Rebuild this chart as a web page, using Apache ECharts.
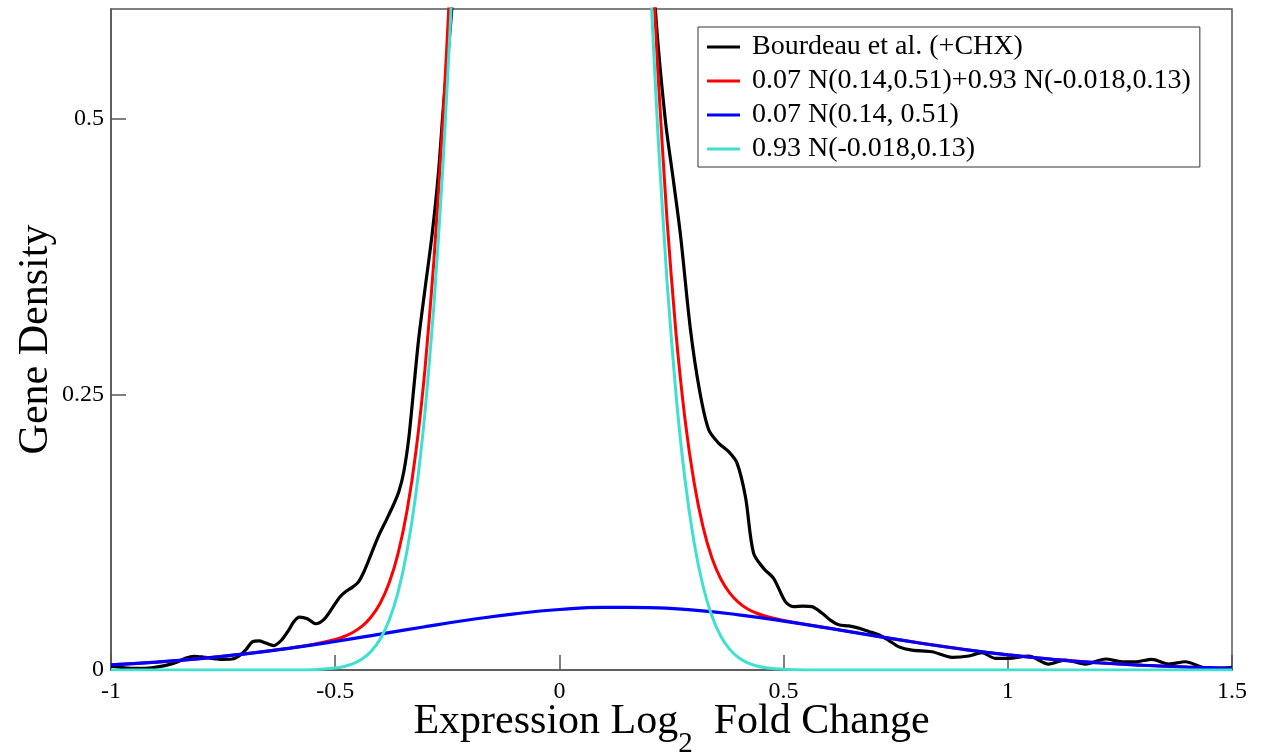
<!DOCTYPE html>
<html><head><meta charset="utf-8">
<script src="https://cdn.jsdelivr.net/npm/echarts@6/dist/echarts.min.js"></script>
<style>html,body{margin:0;padding:0;background:#fff}#c{width:1262px;height:753px}</style>
</head><body><div id="c"></div>
<script>
// ---- data ----
const seriesNames = [
  'Bourdeau et al. (+CHX)',
  '0.07 N(0.14,0.51)+0.93 N(-0.018,0.13)',
  '0.07 N(0.14, 0.51)',
  '0.93 N(-0.018,0.13)'
];
const xTicks = [-1, -0.5, 0, 0.5, 1, 1.5];
const yTicks = [0, 0.25, 0.5];

// empirical density (black); null = curve leaves the plot above the top
const blackX = [-1.00,-0.97,-0.94,-0.91,-0.88,-0.855,-0.835,-0.815,-0.795,-0.775,-0.752,-0.73,-0.715,-0.70,-0.685,-0.67,-0.655,-0.637,-0.62,-0.604,-0.592,-0.58,-0.562,-0.544,-0.525,-0.507,-0.49,-0.477,-0.462,-0.448,-0.435,-0.42,-0.403,-0.385,-0.37,-0.358,-0.347,-0.336,-0.325,-0.314,-0.30,-0.284,-0.27,-0.258,-0.24,-0.225,
  0.0,
  0.20,0.214,0.236,0.254,0.270,0.292,0.312,0.333,0.355,0.378,0.396,0.415,0.433,0.456,0.478,0.504,0.522,0.543,0.563,0.586,0.605,0.623,0.645,0.6675,0.69,0.712,0.734,0.757,0.786,0.831,0.876,0.913,0.9425,0.972,1.002,1.0466,1.091,1.128,1.173,1.218,1.255,1.285,1.3215,1.359,1.396,1.433,1.463,1.5];
const blackY = [0.0035,0.002,0.0015,0.002,0.004,0.0068,0.0105,0.0125,0.0118,0.0106,0.0097,0.0100,0.0125,0.018,0.0255,0.0265,0.0245,0.0222,0.027,0.036,0.044,0.048,0.0465,0.042,0.046,0.056,0.066,0.071,0.075,0.080,0.090,0.105,0.122,0.137,0.150,0.162,0.180,0.210,0.255,0.300,0.345,0.395,0.450,0.515,0.60,0.70,
  null,
  0.72,0.60,0.50,0.445,0.395,0.310,0.255,0.218,0.206,0.198,0.188,0.157,0.106,0.092,0.083,0.062,0.0575,0.058,0.0575,0.0515,0.045,0.041,0.040,0.038,0.035,0.032,0.027,0.021,0.018,0.0166,0.0115,0.0127,0.0157,0.0106,0.0106,0.0127,0.0054,0.009,0.0054,0.010,0.0075,0.0075,0.0097,0.0054,0.0075,0.0025,0.0012,0.0025];

// mixture (red) and narrow component (cyan), sampled where they are in view
const modelX = [-1.0,-0.9,-0.8,-0.7,-0.6,-0.55,-0.5,-0.48,-0.46,-0.44,-0.42,-0.40,-0.38,-0.36,-0.34,-0.32,-0.30,-0.28,-0.26,-0.24,-0.22,-0.20,
  0,
  0.16,0.18,0.20,0.22,0.24,0.26,0.28,0.30,0.32,0.34,0.36,0.38,0.40,0.42,0.44,0.46,0.48,0.50,0.55,0.6,0.7,0.8,0.9,1.0,1.1,1.2,1.3,1.4,1.5];
const redY = [0.0047,0.0071,0.0104,0.0147,0.0199,0.0232,0.0277,0.0304,0.0343,0.0398,0.0481,0.0604,0.0787,0.1055,0.1441,0.1982,0.2722,0.3707,0.4976,0.6564,0.8487,1.074,
  null,
  1.134,0.9034,0.7052,0.5407,0.4086,0.3057,0.2280,0.1710,0.1303,0.1019,0.0826,0.0698,0.0612,0.0554,0.0515,0.0488,0.0467,0.0450,0.0414,0.0380,0.0312,0.0247,0.0188,0.0138,0.0097,0.0066,0.0043,0.0027,0.0016];
const cyanY = [0,0,0,0,0.0001,0.0003,0.0018,0.0032,0.0057,0.0099,0.0169,0.0278,0.0448,0.0703,0.1075,0.1602,0.2329,0.3301,0.4557,0.6132,0.8043,1.028,
  null,
  1.077,0.8466,0.6486,0.4844,0.3527,0.2503,0.1731,0.1167,0.0767,0.0491,0.0307,0.0187,0.0111,0.0064,0.0036,0.0020,0.0011,0.0006,0.0001,0,0,0,0,0,0,0,0,0,0];

// broad component (blue)
const blueX = [-1.0,-0.9,-0.8,-0.7,-0.6,-0.5,-0.4,-0.3,-0.2,-0.1,0,0.1,0.2,0.3,0.4,0.5,0.6,0.7,0.8,0.9,1.0,1.1,1.2,1.3,1.4,1.5];
const blueY = [0.0047,0.0071,0.0104,0.0147,0.0199,0.0259,0.0325,0.0393,0.0456,0.0510,0.0549,0.0568,0.0566,0.0543,0.0501,0.0444,0.0380,0.0312,0.0247,0.0188,0.0138,0.0097,0.0066,0.0043,0.0027,0.0016];

// ---- chart ----
const zip = (xs, ys) => xs.map((x, i) => [x, ys[i] == null ? '-' : ys[i]]);
const SERIF = "'Liberation Serif', 'Times New Roman', serif";
const frame = '#555';

function lineSeries(name, color, width, data, smooth) {
  return {
    name, type: 'line', data, smooth, symbol: 'none', showSymbol: false,
    connectNulls: false, clip: true,
    lineStyle: { color, width }, itemStyle: { color },
    emphasis: { disabled: true }
  };
}

const chart = echarts.init(document.getElementById('c'), null, { renderer: 'canvas' });
chart.setOption({
  animation: false,
  backgroundColor: '#fff',
  grid: { left: 111, right: 30, top: 9, bottom: 83, containLabel: false, outerBoundsMode: 'none',
    show: true, borderColor: frame, borderWidth: 1.5, backgroundColor: 'transparent' },
  xAxis: {
    type: 'value', min: -1, max: 1.5, interval: 0.5,
    axisLine: { show: true, onZero: false, lineStyle: { color: frame, width: 1.5 } },
    axisTick: { show: true, inside: true, length: 15, customValues: xTicks, lineStyle: { color: frame, width: 1.5 } },
    axisLabel: { customValues: xTicks, fontFamily: SERIF, fontSize: 24, color: '#000', margin: 10 },
    splitLine: { show: false },
    name: '{a|Expression Log}{s|2}{a|  Fold Change}',
    nameLocation: 'middle', nameGap: 15, nameMoveOverlap: false,
    nameTextStyle: {
      color: '#000', fontFamily: SERIF, fontSize: 42,
      rich: {
        a: { fontFamily: SERIF, fontSize: 42, color: '#000', lineHeight: 74, verticalAlign: 'middle' },
        s: { fontFamily: SERIF, fontSize: 29, color: '#000', lineHeight: 29, verticalAlign: 'bottom' }
      }
    }
  },
  yAxis: {
    type: 'value', min: 0, max: 0.6, interval: 0.25,
    axisLine: { show: true, onZero: false, lineStyle: { color: frame, width: 1.5 } },
    axisTick: { show: true, inside: true, length: 15, customValues: yTicks, lineStyle: { color: frame, width: 1.5 } },
    axisLabel: { customValues: yTicks, fontFamily: SERIF, fontSize: 24, color: '#000', margin: 7,
      formatter: v => (v > 0.55 ? '' : String(v)) },
    splitLine: { show: false },
    name: 'Gene Density', nameLocation: 'middle', nameGap: 54, nameMoveOverlap: false,
    nameTextStyle: { color: '#000', fontFamily: SERIF, fontSize: 42 }
  },
  legend: {
    orient: 'vertical', left: 698, top: 27,
    backgroundColor: '#fff', borderColor: '#333', borderWidth: 1, borderRadius: 0,
    padding: [5, 9, 3, 9], itemGap: 4, itemWidth: 33, itemHeight: 3, icon: 'rect',
    textStyle: { fontFamily: SERIF, fontSize: 28, color: '#000', lineHeight: 30, padding: [0, 0, 0, 7] },
    data: seriesNames,
    selectedMode: false
  },
  series: [
    lineSeries(seriesNames[0], '#000000', 3.2, zip(blackX, blackY), 0.3),
    lineSeries(seriesNames[1], '#ff0000', 3, zip(modelX, redY), 0.2),
    lineSeries(seriesNames[2], '#0000ff', 3.2, zip(blueX, blueY), true),
    lineSeries(seriesNames[3], '#40e0d0', 3, zip(modelX, cyanY), 0.2)
  ]
});
</script></body></html>
